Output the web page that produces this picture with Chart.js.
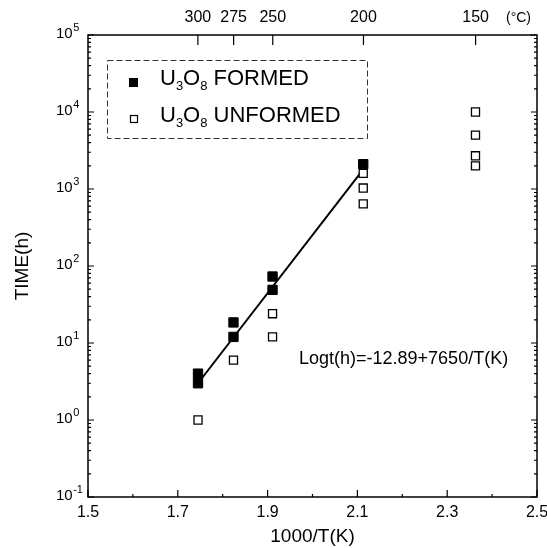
<!DOCTYPE html>
<html><head><meta charset="utf-8">
<script src="https://cdn.jsdelivr.net/npm/chart.js@4/dist/chart.umd.min.js"></script>
<style>html,body{margin:0;padding:0;background:#fff}#wrap{width:547px;height:548px}</style>
</head><body><div id="wrap"><canvas id="c" width="547" height="548"></canvas></div>
<script>
// ---- data ----
const formedX = [1.745, 1.745, 1.824, 1.824, 1.911, 1.911, 2.113];
const formedY = [4, 3, 18.5, 12, 73, 49, 2100];
const unformedX = [1.745, 1.824, 1.911, 1.911, 2.113, 2.113, 2.113, 2.363, 2.363, 2.363, 2.363];
const unformedY = [1, 6, 24, 12, 1600, 1030, 640, 10000, 5000, 2700, 2000];
const fitX = [1.745, 2.113];
const fitY = [3.0, 1800];
const xTicks = [1.5, 1.7, 1.9, 2.1, 2.3, 2.5];
const xMinorTicks = [1.6, 1.8, 2.0, 2.2, 2.4];
const celsiusTicks = [300, 275, 250, 200, 150];
const yDecades = [0.1, 1, 10, 100, 1000, 10000, 100000];
const yTickBase = '10';
const yTickExponents = ['-1', '0', '1', '2', '3', '4', '5'];
const legendFormed = [['U'], ['3', 1], ['O'], ['8', 1], [' FORMED']];
const legendUnformed = [['U'], ['3', 1], ['O'], ['8', 1], [' UNFORMED']];
const equationText = 'Logt(h)=-12.89+7650/T(K)';
const unitText = '(\u00B0C)';

const FONT = "'Liberation Sans', Arial, Helvetica, sans-serif";
Chart.defaults.font.family = FONT;
Chart.defaults.color = '#000';

function drawRich(ctx, segs, x, y, size, subSize) {
  ctx.save();
  ctx.textAlign = 'left';
  ctx.textBaseline = 'alphabetic';
  ctx.fillStyle = '#000';
  let cx = x;
  for (const s of segs) {
    const sub = !!s[1];
    ctx.font = (sub ? subSize : size) + 'px ' + FONT;
    ctx.fillText(s[0], cx, y + (sub ? 5 : 0));
    cx += ctx.measureText(s[0]).width;
  }
  ctx.restore();
}

const decor = {
  id: 'decor',
  afterDraw(chart) {
    const ctx = chart.ctx;
    const a = chart.chartArea;
    const sx = chart.scales.x, sy = chart.scales.y, st = chart.scales.xTop;
    ctx.save();
    ctx.strokeStyle = '#000';
    ctx.lineWidth = 1.5;
    ctx.strokeRect(a.left, a.top, a.right - a.left, a.bottom - a.top);
    ctx.lineWidth = 1.2;
    ctx.beginPath();
    for (const v of xTicks) { const p = sx.getPixelForValue(v); ctx.moveTo(p, a.bottom); ctx.lineTo(p, a.bottom - 7); }
    for (const v of xMinorTicks) { const p = sx.getPixelForValue(v); ctx.moveTo(p, a.bottom); ctx.lineTo(p, a.bottom - 3); }
    for (const c of celsiusTicks) { const p = st.getPixelForValue(1000 / (c + 273.15)); ctx.moveTo(p, a.top); ctx.lineTo(p, a.top + 10); }
    for (let i = 0; i < yDecades.length; i++) {
      const d = yDecades[i];
      const p = sy.getPixelForValue(d);
      ctx.moveTo(a.left, p); ctx.lineTo(a.left + 6, p);
      ctx.moveTo(a.right, p); ctx.lineTo(a.right - 6, p);
      if (i < yDecades.length - 1) {
        for (let k = 2; k <= 9; k++) {
          const q = sy.getPixelForValue(d * k);
          ctx.moveTo(a.left, q); ctx.lineTo(a.left + 3, q);
          ctx.moveTo(a.right, q); ctx.lineTo(a.right - 3, q);
        }
      }
    }
    ctx.stroke();

    // y tick labels (10 with superscript exponent)
    ctx.fillStyle = '#000';
    ctx.textAlign = 'left';
    ctx.textBaseline = 'alphabetic';
    for (let i = 0; i < yDecades.length; i++) {
      const p = sy.getPixelForValue(yDecades[i]);
      ctx.font = '15px ' + FONT;
      ctx.fillText(yTickBase, 56, p + 3);
      const w = ctx.measureText(yTickBase).width;
      ctx.font = '11px ' + FONT;
      ctx.fillText(yTickExponents[i], 56 + w + 0.5, p - 4);
    }

    // unit label next to top axis
    ctx.font = '14px ' + FONT;
    ctx.textAlign = 'left';
    ctx.textBaseline = 'middle';
    ctx.fillText(unitText, 506, 18);

    // legend box
    ctx.setLineDash([6, 3]);
    ctx.lineWidth = 1;
    ctx.strokeStyle = '#333';
    ctx.strokeRect(107.5, 60.5, 260, 78);
    ctx.setLineDash([]);
    ctx.fillStyle = '#000';
    ctx.fillRect(129, 78, 9, 9);
    ctx.fillStyle = '#fff';
    ctx.strokeStyle = '#000';
    ctx.lineWidth = 1.2;
    ctx.fillRect(130, 115, 7, 7);
    ctx.strokeRect(130.5, 115.5, 7, 7);
    drawRich(ctx, legendFormed, 160, 85, 22, 13);
    drawRich(ctx, legendUnformed, 160, 122, 22, 13);

    // equation
    ctx.font = '18px ' + FONT;
    ctx.fillStyle = '#000';
    ctx.textAlign = 'left';
    ctx.textBaseline = 'alphabetic';
    ctx.fillText(equationText, 299, 364);
    ctx.restore();
  }
};

const toPts = (xs, ys) => xs.map((x, i) => ({ x, y: ys[i] }));

new Chart(document.getElementById('c'), {
  type: 'scatter',
  data: {
    datasets: [
      { label: 'fit', type: 'line', data: toPts(fitX, fitY), borderColor: '#000', borderWidth: 2, pointRadius: 0, showLine: true, fill: false, order: 3 },
      { label: 'U3O8 UNFORMED', data: toPts(unformedX, unformedY), pointStyle: 'rect', pointRadius: 5.7, backgroundColor: '#fff', borderColor: '#000', borderWidth: 1.3, order: 2 },
      { label: 'U3O8 FORMED', data: toPts(formedX, formedY), pointStyle: 'rect', pointRadius: 6.6, backgroundColor: '#000', borderColor: '#000', borderWidth: 1, order: 1 }
    ]
  },
  options: {
    responsive: false,
    animation: false,
    devicePixelRatio: 1,
    layout: { padding: { left: 0, right: 10, top: 0, bottom: 0 } },
    plugins: { legend: { display: false }, tooltip: { enabled: false } },
    scales: {
      x: {
        type: 'linear', position: 'bottom', min: 1.5, max: 2.5,
        afterBuildTicks: s => { s.ticks = xTicks.map(v => ({ value: v })); },
        ticks: { callback: v => v.toFixed(1), font: { size: 16 }, color: '#000', padding: -2, maxRotation: 0, autoSkip: false },
        grid: { display: false }, border: { display: false },
        title: { display: true, text: '1000/T(K)', font: { size: 19 }, color: '#000', padding: { top: 4, bottom: 0 } },
        afterFit: s => { s.height = 51; }
      },
      xTop: {
        type: 'linear', position: 'top', min: 1.5, max: 2.5,
        afterBuildTicks: s => { s.ticks = celsiusTicks.map(c => ({ value: 1000 / (c + 273.15) })); },
        ticks: { callback: (v, i) => String(celsiusTicks[i]), font: { size: 16 }, color: '#000', padding: 0, maxRotation: 0, autoSkip: false },
        grid: { display: false }, border: { display: false },
        afterFit: s => { s.height = 35; }
      },
      y: {
        type: 'logarithmic', position: 'left', min: 0.1, max: 100000,
        afterBuildTicks: s => { s.ticks = yDecades.map(v => ({ value: v })); },
        ticks: { display: false },
        grid: { display: false }, border: { display: false },
        title: { display: true, text: 'TIME(h)', font: { size: 19 }, color: '#000', padding: { top: 11, bottom: 0 } },
        afterFit: s => { s.width = 88; }
      }
    }
  },
  plugins: [decor]
});
</script>
</body></html>
